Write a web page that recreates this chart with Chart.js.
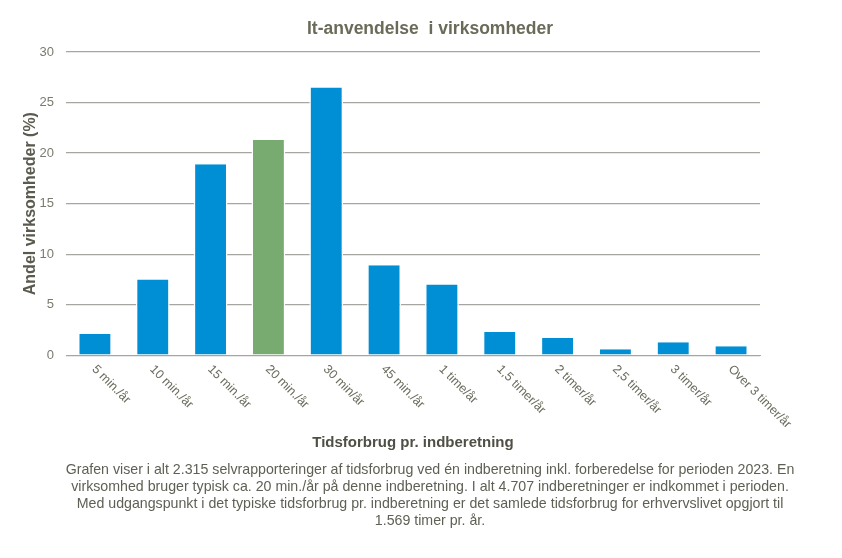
<!DOCTYPE html>
<html>
<head>
<meta charset="utf-8">
<script src="https://cdn.jsdelivr.net/npm/chart.js@4.4.1/dist/chart.umd.min.js"></script>
<style>
  html, body { margin: 0; padding: 0; background: #fff; }
  #wrap { width: 842px; height: 558px; }
</style>
</head>
<body>
<div id="wrap"><canvas id="myChart" width="842" height="558"></canvas></div>
<script>
// Data
const categories = ["5 min./år", "10 min./år", "15 min./år", "20 min./år", "30 min/år", "45 min./år",
  "1 time/år", "1,5 timer/år", "2 timer/år", "2,5 timer/år", "3 timer/år", "Over 3 timer/år"];
const shares = [2.1, 7.5, 18.9, 21.3, 26.5, 8.9, 7.0, 2.3, 1.7, 0.6, 1.3, 0.9];
const highlightIndex = 3; // typical time use, drawn in green
const yTicks = [0, 5, 10, 15, 20, 25, 30];

const noteLines = [
  "Grafen viser i alt 2.315 selvrapporteringer af tidsforbrug ved én indberetning inkl. forberedelse for perioden 2023. En",
  "virksomhed bruger typisk ca. 20 min./år på denne indberetning. I alt 4.707 indberetninger er indkommet i perioden.",
  "Med udgangspunkt i det typiske tidsforbrug pr. indberetning er det samlede tidsforbrug for erhvervslivet opgjort til",
  "1.569 timer pr. år."
];

const FONT = "'Liberation Sans', Arial, sans-serif";
const textGrey = "#6b6b5e";

document.addEventListener("DOMContentLoaded", () => {
  const ctx = document.getElementById("myChart").getContext("2d");

  // draws the category labels slanted downwards, like the original
  const slantedLabels = {
    id: "slantedLabels",
    afterDraw(chart) {
      const x = chart.scales.x;
      const c = chart.ctx;
      c.save();
      c.font = "12.5px " + FONT;
      c.fillStyle = textGrey;
      c.textAlign = "left";
      c.textBaseline = "middle";
      categories.forEach((label, i) => {
        const px = x.getPixelForValue(i);
        c.save();
        c.translate(px - 1, x.top + 12);
        c.rotate(Math.PI / 4);
        c.fillText(label, 0, 0);
        c.restore();
      });
      c.restore();
    }
  };

  new Chart(ctx, {
    type: "bar",
    data: {
      labels: categories,
      datasets: [
        {
          label: "Andel virksomheder (%)",
          data: shares,
          backgroundColor: shares.map((v, i) => i === highlightIndex ? "#78ab6f" : "#008fd5"),
          // thin white sides so the gridlines stop just short of the bars
          borderColor: "#ffffff",
          borderWidth: { top: 0, bottom: 0, left: 1.5, right: 1.5 },
          borderSkipped: false,
          barPercentage: 0.585,
          categoryPercentage: 1.0,
        },
      ],
    },
    options: {
      responsive: false,
      animation: false,
      layout: { padding: { left: 18, right: 0, top: 10, bottom: 28 } },
      plugins: {
        legend: { display: false },
        tooltip: { enabled: false },
        title: {
          display: true,
          text: "It-anvendelse  i virksomheder",
          color: "#6b6b5a",
          font: { family: FONT, size: 17.5, weight: "bold" },
          padding: { top: 9, bottom: 12 },
        },
        subtitle: {
          display: true,
          position: "bottom",
          text: noteLines,
          color: "#5f5f55",
          font: { family: FONT, size: 14.2, lineHeight: 1.21 },
          padding: { top: 7, bottom: 0 },
        },
      },
      scales: {
        x: {
          grid: { display: false },
          border: { color: "#a6a6a0", width: 1 },
          ticks: { display: false },
          title: {
            display: true,
            text: "Tidsforbrug pr. indberetning",
            color: "#4f4f45",
            font: { family: FONT, size: 15, weight: "bold" },
            padding: { top: 71, bottom: 2 },
          },
        },
        y: {
          min: 0,
          max: 30,
          afterBuildTicks: (axis) => { axis.ticks = yTicks.map((v) => ({ value: v })); },
          afterFit: (axis) => { axis.width = 48; },
          grid: { color: "#a6a6a0", lineWidth: 1.3, drawTicks: false },
          border: { display: false },
          ticks: {
            color: "#7a7a70",
            font: { family: FONT, size: 13 },
            padding: 12,
          },
          title: {
            display: true,
            text: "Andel virksomheder (%)",
            color: "#5a5a4e",
            font: { family: FONT, size: 16, weight: "bold" },
            padding: { top: 3, bottom: 2 },
          },
        },
        // empty right-hand axis that only keeps the right margin free
        yRight: {
          position: "right",
          grid: { display: false },
          border: { display: false },
          ticks: { display: false },
          afterFit: (axis) => { axis.width = 82; },
        },
      },
    },
    plugins: [slantedLabels],
  });
});
</script>
</body>
</html>
